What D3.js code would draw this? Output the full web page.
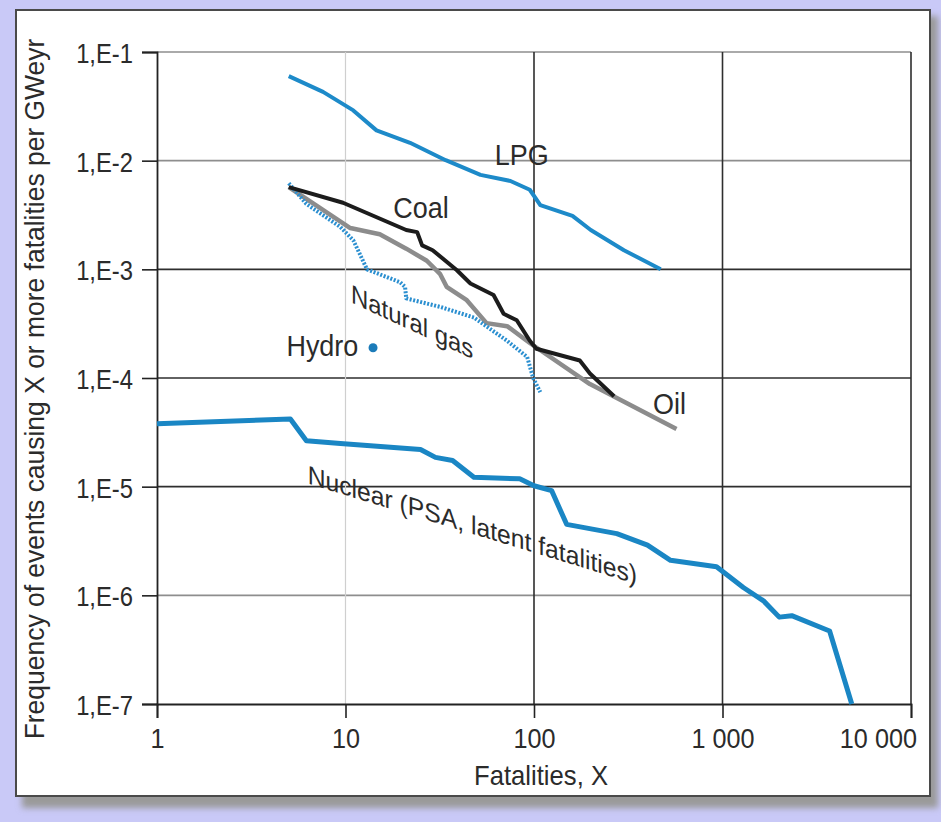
<!DOCTYPE html>
<html>
<head>
<meta charset="utf-8">
<script src="https://cdnjs.cloudflare.com/ajax/libs/d3/7.8.5/d3.min.js"></script>
<style>
  html, body { margin: 0; padding: 0; background: #c9c9f7; }
  svg { display: block; }
  text { font-family: "Liberation Sans", Arial, sans-serif; fill: #2b2b2b; }
</style>
</head>
<body>
<script>
// axis ticks
var xTicks = [1, 10, 100, 1000, 10000];
var xTickLabels = ['1', '10', '100', '1 000', '10 000'];
var yTicks = [1e-1, 1e-2, 1e-3, 1e-4, 1e-5, 1e-6, 1e-7];
var yTickLabels = ['1,E-1', '1,E-2', '1,E-3', '1,E-4', '1,E-5', '1,E-6', '1,E-7'];

// frequency of events causing X or more fatalities (per GWeyr)
var lpgX = [5, 7.6, 11, 14.6, 22, 34, 52, 75, 95, 108, 160, 200, 300, 470];
var lpgY = [0.06, 0.043, 0.029, 0.019, 0.0146, 0.0101, 0.0074, 0.0065, 0.0054, 0.0039, 0.0031, 0.0023, 0.0015, 0.001];

var coalX = [5, 9.7, 21, 24, 25.5, 29, 39, 46, 61, 69, 81, 95, 103, 175, 198, 266];
var coalY = [0.0057, 0.0041, 0.0023, 0.0022, 0.00166, 0.0015, 0.00098, 0.00074, 0.00058, 0.00039, 0.00034, 0.00022, 0.000186, 0.000145, 0.00011, 0.000068];

var oilX = [5, 10.6, 15.2, 21, 27, 31.7, 34.4, 44, 56, 72, 95, 198, 570];
var oilY = [0.0057, 0.0024, 0.0021, 0.00155, 0.0012, 0.00091, 0.00069, 0.00052, 0.00032, 0.0003, 0.00021, 0.000088, 0.000034];

var gasX = [5, 6.2, 9.4, 11, 13, 19.5, 20.7, 21, 32, 48, 72, 92, 99, 108];
var gasY = [0.0062, 0.004, 0.00245, 0.00185, 0.001, 0.00076, 0.00069, 0.00054, 0.00045, 0.00036, 0.00022, 0.000156, 0.0001, 0.000074];

var nuclearX = [1, 5.1, 6.2, 9.4, 25, 30, 37, 48, 84, 100, 124, 149, 275, 400, 530, 930, 1290, 1650, 2000, 2330, 3700, 4850];
var nuclearY = [3.8e-5, 4.2e-5, 2.65e-5, 2.5e-5, 2.2e-5, 1.86e-5, 1.74e-5, 1.22e-5, 1.18e-5, 1.02e-5, 9.2e-6, 4.5e-6, 3.7e-6, 2.9e-6, 2.1e-6, 1.83e-6, 1.18e-6, 8.9e-7, 6.3e-7, 6.5e-7, 4.7e-7, 1e-7];

var hydroX = [14];
var hydroY = [0.00019];

var width = 941;
var height = 822;

var svg = d3.select('body')
            .append('svg')
            .attr('width', width)
            .attr('height', height);

// lavender page, shadowed white card
svg.append('rect')
    .attr('width', width)
    .attr('height', height)
    .attr('fill', '#c9c9f7');

var defs = svg.append('defs');
defs.append('filter')
    .attr('id', 'shadow')
    .attr('x', '-5%').attr('y', '-5%')
    .attr('width', '110%').attr('height', '110%')
    .append('feGaussianBlur')
    .attr('stdDeviation', 3);

svg.append('rect')
    .attr('x', 22).attr('y', 16)
    .attr('width', 916).attr('height', 792)
    .attr('fill', '#9a9a9a')
    .attr('filter', 'url(#shadow)');

svg.append('rect')
    .attr('x', 16).attr('y', 10)
    .attr('width', 914).attr('height', 786)
    .attr('fill', '#ffffff')
    .attr('stroke', '#4a4a4a')
    .attr('stroke-width', 2);

var x = d3.scaleLog()
            .domain([1, 10000])
            .range([157, 911]);
var y = d3.scaleLog()
            .domain([1e-7, 1e-1])
            .range([704, 52]);

// grid
var hGridColor = function (i) {
    return (i === 0 || i === 1 || i === 5) ? '#8e8e8e' : '#2e2e2e';
};
svg.append('g')
    .selectAll('line')
    .data(yTicks.slice(0, 6))
    .enter()
    .append('line')
    .attr('x1', x(1))
    .attr('x2', x(10000))
    .attr('y1', function (d) { return y(d); })
    .attr('y2', function (d) { return y(d); })
    .attr('stroke', function (d, i) { return hGridColor(i); })
    .attr('stroke-width', 1.6);

svg.append('g')
    .selectAll('line')
    .data(xTicks.slice(1))
    .enter()
    .append('line')
    .attr('x1', function (d) { return x(d); })
    .attr('x2', function (d) { return x(d); })
    .attr('y1', y(1e-1))
    .attr('y2', y(1e-7))
    .attr('stroke', function (d) { return d === 10 ? '#cfcfcf' : '#2e2e2e'; })
    .attr('stroke-width', function (d) { return d === 10 ? 1.2 : 1.6; });

// axes (the type is a narrow sans, so glyphs are squeezed horizontally)
var xAxis = d3.axisBottom(x)
            .tickValues(xTicks)
            .tickSize(14)
            .tickFormat(function (d, i) { return xTickLabels[i]; });
var gx = svg.append('g')
            .attr('transform', 'translate(0,' + y(1e-7) + ')')
            .call(xAxis);
gx.select('.domain').attr('stroke', '#222').attr('stroke-width', 1.8);
gx.selectAll('.tick line').attr('stroke', '#222').attr('stroke-width', 1.6);
gx.selectAll('.tick text')
    .attr('y', 44)
    .attr('dy', 0)
    .attr('font-size', 28)
    .attr('fill', '#2b2b2b')
    .attr('transform', 'scale(0.9,1)')
    .attr('text-anchor', function (d) { return d === 10000 ? 'end' : 'middle'; })
    .attr('dx', function (d) { return d === 10000 ? 6 : 0; });

var yAxis = d3.axisLeft(y)
            .tickValues(yTicks)
            .tickSize(15)
            .tickFormat(function (d, i) { return yTickLabels[i]; });
var gy = svg.append('g')
            .attr('transform', 'translate(' + x(1) + ',0)')
            .call(yAxis);
gy.select('.domain').attr('stroke', '#222').attr('stroke-width', 1.8);
gy.selectAll('.tick line').attr('stroke', '#222').attr('stroke-width', 1.6);
gy.selectAll('.tick')
    .each(function () {
        d3.select(this).select('text')
            .attr('x', -24 / 0.85)
            .attr('dy', '0.38em')
            .attr('font-size', 28)
            .attr('fill', '#2b2b2b')
            .attr('transform', 'scale(0.85,1)');
    });

svg.append('text')
    .attr('transform', 'translate(' + ((x(1) + x(10000)) / 2 + 7) + ',785) scale(0.95,1)')
    .attr('text-anchor', 'middle')
    .attr('font-size', 27)
    .text('Fatalities, X');

svg.append('text')
    .attr('transform', 'translate(44,389) rotate(-90) scale(0.98,1)')
    .attr('text-anchor', 'middle')
    .attr('font-size', 27)
    .text('Frequency of events causing X or more fatalities per GWeyr');

// series
var line = d3.line()
            .x(function (d) { return x(d[0]); })
            .y(function (d) { return y(d[1]); });

function series(xs, ys) {
    return xs.map(function (v, i) { return [v, ys[i]]; });
}

var plot = svg.append('g')
            .attr('fill', 'none')
            .attr('stroke-linejoin', 'round');

plot.append('path')
    .attr('d', line(series(oilX, oilY)))
    .attr('stroke', '#8c8c8c')
    .attr('stroke-width', 4.5);

plot.append('path')
    .attr('d', line(series(gasX, gasY)))
    .attr('stroke', '#2b8fd0')
    .attr('stroke-width', 4)
    .attr('stroke-dasharray', '2 1.6');

plot.append('path')
    .attr('d', line(series(coalX, coalY)))
    .attr('stroke', '#1c1c1c')
    .attr('stroke-width', 4);

plot.append('path')
    .attr('d', line(series(lpgX, lpgY)))
    .attr('stroke', '#1d8ac9')
    .attr('stroke-width', 4);

plot.append('path')
    .attr('d', line(series(nuclearX, nuclearY)))
    .attr('stroke', '#1a86c4')
    .attr('stroke-width', 5);

svg.selectAll('.hydro')
    .data(series(hydroX, hydroY))
    .enter()
    .append('circle')
    .attr('class', 'hydro')
    .attr('cx', function (d) { return x(d[0]); })
    .attr('cy', function (d) { return y(d[1]); })
    .attr('r', 4.5)
    .attr('fill', '#1b7bb9');

// labels, anchored in data space
function label(txt, lx, ly, size, sx, anchor, skew) {
    svg.append('text')
        .attr('transform', 'translate(' + x(lx) + ',' + y(ly) + ')' +
              (skew ? ' skewY(' + skew + ')' : '') + ' scale(' + sx + ',1)')
        .attr('text-anchor', anchor)
        .attr('font-size', size)
        .text(txt);
}
label('LPG', 62, 0.0091, 29, 0.93, 'start', 0);
label('Coal', 17.9, 0.00295, 29, 0.93, 'start', 0);
label('Natural gas', 10.7, 0.000497, 26, 0.92, 'start', 25);
label('Hydro', 11.7, 0.000161, 29, 0.93, 'end', 0);
label('Oil', 428, 4.7e-5, 29, 0.93, 'start', 0);
label('Nuclear (PSA, latent fatalities)', 6.3, 1.07e-5, 26, 0.95, 'start', 17);
</script>
</body>
</html>
